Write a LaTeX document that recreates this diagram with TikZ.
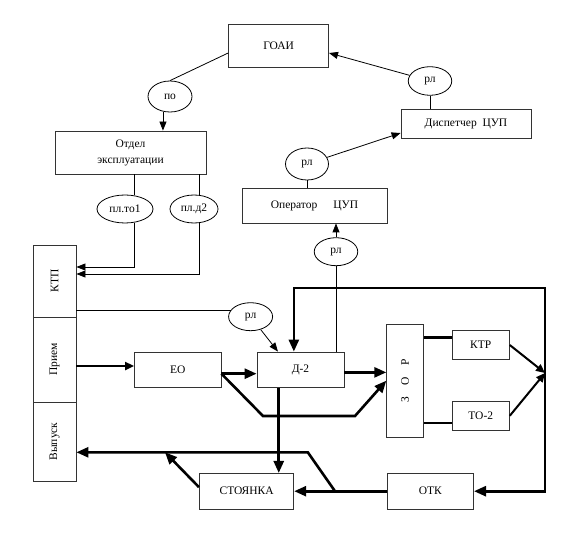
\documentclass[tikz,border=0pt]{standalone}
\usepackage{fontspec}
\usepackage{graphicx}
\setmainfont{Liberation Serif}
\usetikzlibrary{shapes.geometric,arrows.meta}

\begin{document}
\begin{tikzpicture}[x=1pt, y=-1pt,
    font=\fontsize{11.5}{13}\selectfont,
    box/.style={draw=black!80, line width=0.8pt, inner sep=0pt},
    oval/.style={draw, ellipse, line width=0.8pt, inner sep=0pt},
    ln/.style={line width=0.8pt},
    arr/.style={line width=0.8pt, -{Triangle[length=9pt,width=7pt]}},
    mid/.style={line width=2pt, -{Triangle[length=9pt,width=8pt]}},
    thk/.style={line width=2.6pt, >={Triangle[length=12pt,width=10pt]}}]
    \useasboundingbox (0,0) rectangle (578,537);

    % Boxes
    \node[box, minimum width=100pt, minimum height=43pt] (goai) at (278.6,45.6) {ГОАИ};
    \node[box, minimum width=151pt, minimum height=43pt, align=center] (otdel) at (130.5,152.5) {Отдел\\[3pt]эксплуатации};
    \node[box, minimum width=130pt, minimum height=29pt] (disp) at (466,123.5) {Диспетчер\ \ ЦУП};
    \node[box, minimum width=145pt, minimum height=35pt] (oper) at (314.5,205.5) {Оператор\hspace{1.4em}ЦУП};
    \node[box, minimum width=43pt, minimum height=72pt] (ktp) at (54.5,281) {\rotatebox{90}{КТП}};
    \node[box, minimum width=43pt, minimum height=85pt] (priem) at (54.5,359.5) {\rotatebox{90}{Прием}};
    \node[box, minimum width=43pt, minimum height=79pt] (vyp) at (54.5,441.5) {\rotatebox{90}{Выпуск}};
    \node[box, minimum width=86.5pt, minimum height=35.7pt] (eo) at (177.75,369.85) {ЕО};
    \node[box, minimum width=87pt, minimum height=35.7pt] (d2) at (300.5,369.85) {Д-2};
    \node[box, minimum width=36.6pt, minimum height=113.3pt] (zor) at (405,380.7) {\rotatebox{90}{З\quad О\quad Р}};
    \node[box, minimum width=57.3pt, minimum height=28.6pt] (ktr) at (480.7,345) {КТР};
    \node[box, minimum width=57.3pt, minimum height=29pt] (to2) at (480.7,415.8) {ТО-2};
    \node[box, minimum width=86.6pt, minimum height=35.7pt] (otk) at (430.3,491.2) {ОТК};
    \node[box, minimum width=94.4pt, minimum height=35.7pt] (stoy) at (246.6,491.2) {СТОЯНКА};

    % Ovals
    \node[oval, minimum width=44pt, minimum height=31pt] (po) at (170,96.5) {по};
    \node[oval, minimum width=43.5pt, minimum height=28.6pt] (rla) at (430,81) {рл};
    \node[oval, minimum width=43pt, minimum height=32pt] (rlb) at (307,164) {рл};
    \node[oval, minimum width=56pt, minimum height=28pt] (to1) at (125,209) {пл.то1};
    \node[oval, minimum width=48pt, minimum height=28pt] (pld2) at (194,209) {пл.д2};
    \node[oval, minimum width=43.5pt, minimum height=28pt] (rlc) at (336,251.7) {рл};
    \node[oval, minimum width=44pt, minimum height=28pt] (rld) at (250.6,316.7) {рл};

    % Corners
    \coordinate (tr) at (545,288);
    \coordinate (jn) at (545,373);
    \coordinate (b1) at (263,416);
    \coordinate (b2) at (355,416);
    \coordinate (j2) at (335,491.2);
    \coordinate (b3) at (307.8,452.3);
    \coordinate (b4) at (165,452.3);

    % Thin links
    \draw[ln] ([yshift=-7.4pt]goai.west) -- (po.north);
    \draw[arr] (po.245) -- (po.245 |- otdel.north);
    \draw[arr] (rla) -- ([yshift=-7.4pt]goai.east);
    \draw[ln] (rla.south) -- (rla.south |- disp.north);
    \draw[arr] (rlb) -- ([yshift=-9.5pt]disp.west);
    \draw[ln] (rlb.south) -- (rlb.south |- oper.north);
    \draw[arr] (rlc.north) -- (rlc.north |- oper.south);
    \draw[ln] (rlc.south) -- (rlc.south |- d2.north);
    \draw[ln] (to1.56) -- (to1.56 |- otdel.south);
    \draw[arr] (to1.304) |- ([yshift=14pt]ktp.east);
    \draw[ln] (pld2.68) -- (pld2.68 |- otdel.south);
    \draw[arr] (pld2.292) |- ([yshift=7pt]ktp.east);
    \draw[ln] (ktp.east |- rld.161) -- (rld.161);
    \draw[arr] (rld) -- (d2.141);

    % Thick links
    \draw[mid] (priem.east |- eo.175) -- (eo.175);
    \draw[thk,->] (eo.east |- d2.185) -- (d2.185);
    \draw[thk,->] (eo.east |- d2.185) -- (b1) -- (b2) -- (zor.west);
    \draw[thk,->] (d2.east |- zor.156) -- (zor.156);
    \draw[thk,->] (d2.220) -- (d2.220 |- stoy.north);
    \draw[thk] (ktr.166) -- (ktr.166 -| zor.east);
    \draw[thk] (to2.194) -- (to2.194 -| zor.east);
    \draw[mid] (ktr.east) -- (jn);
    \draw[mid] (to2.east) -- (jn);
    \draw[thk,<->] (d2.110) |- (tr) |- (otk.east);
    \draw[thk,->] (otk.west) -- (stoy.east);
    \draw[thk,->] (j2) -- (b3) -- (vyp.east |- b3);
    \draw[thk,->] ([yshift=4pt]stoy.west) -- (b4);
\end{tikzpicture}
\end{document}
